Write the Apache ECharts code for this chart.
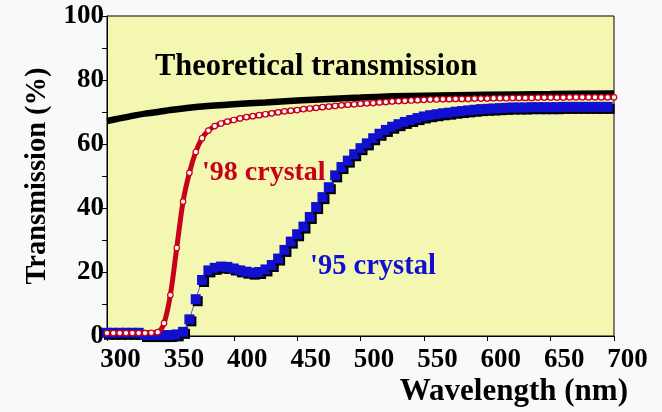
<!DOCTYPE html>
<html>
<head>
<meta charset="utf-8">
<script src="https://cdn.jsdelivr.net/npm/echarts@6/dist/echarts.min.js"></script>
<style>
  html, body { margin: 0; padding: 0; background: #f9f9fb; }
  #chart { width: 662px; height: 412px; }
</style>
</head>
<body>
<div id="chart"></div>
<script>
// Wavelength axis ticks (nm) and transmission axis (%)
var xTicks = [300, 350, 400, 450, 500, 550, 600, 650, 700];
var yTicks = [0, 20, 40, 60, 80, 100];

// Theoretical transmission curve
var theoryNm  = [300, 310, 320, 330, 340, 350, 360, 375, 400, 425, 450, 475, 500, 525, 550, 600, 650, 700];
var theoryPct = [67.2, 68.0, 68.8, 69.5, 70.0, 70.6, 71.1, 71.7, 72.4, 73.0, 73.6, 74.1, 74.5, 74.9, 75.1, 75.4, 75.6, 75.8];

// '98 crystal measurement
var crystal98Nm = [300, 305, 310, 315, 320, 325, 330, 335, 340, 345, 350, 355, 360, 365, 370, 375, 380, 385, 390, 395,
                   400, 405, 410, 415, 420, 425, 430, 435, 440, 445, 450, 455, 460, 465, 470, 475, 480, 485, 490, 495,
                   500, 505, 510, 515, 520, 525, 530, 535, 540, 545, 550, 555, 560, 565, 570, 575, 580, 585, 590, 595,
                   600, 605, 610, 615, 620, 625, 630, 635, 640, 645, 650, 655, 660, 665, 670, 675, 680, 685, 690, 695, 700];
var crystal98Pct = [0.9, 0.9, 0.9, 0.9, 0.9, 0.9, 0.9, 1.0, 1.2, 4.0, 12.8, 27.5, 42.0, 51.0, 57.5, 61.8, 64.2, 65.6, 66.4, 67.0,
                    67.5, 68.0, 68.4, 68.7, 69.0, 69.3, 69.6, 69.9, 70.2, 70.4, 70.6, 70.9, 71.1, 71.3, 71.5, 71.7, 71.9, 72.1, 72.3, 72.4,
                    72.6, 72.7, 72.8, 73.0, 73.1, 73.3, 73.4, 73.5, 73.6, 73.7, 73.8, 73.9, 73.9, 74.0, 74.0, 74.1, 74.1, 74.1, 74.2, 74.2,
                    74.2, 74.3, 74.3, 74.3, 74.4, 74.4, 74.4, 74.4, 74.5, 74.5, 74.5, 74.5, 74.5, 74.6, 74.6, 74.6, 74.6, 74.6, 74.6, 74.6, 74.6];

// '95 crystal measurement
var crystal95Nm = [300, 305, 310, 315, 320, 325, 330, 335, 340, 345, 350, 355, 360, 365, 370, 375, 380, 385, 390, 395,
                   400, 405, 410, 415, 420, 425, 430, 435, 440, 445, 450, 455, 460, 465, 470, 475, 480, 485, 490, 495,
                   500, 505, 510, 515, 520, 525, 530, 535, 540, 545, 550, 555, 560, 565, 570, 575, 580, 585, 590, 595,
                   600, 605, 610, 615, 620, 625, 630, 635, 640, 645, 650, 655, 660, 665, 670, 675, 680, 685, 690, 695, 700];
var crystal95Pct = [1.0, 1.0, 1.0, 1.0, 1.0, 1.0, 0.3, 0.3, 0.3, 0.3, 0.3, 0.5, 1.3, 5.2, 11.5, 17.5, 20.5, 21.3, 21.7, 21.6,
                    21.1, 20.5, 20.1, 19.8, 20.0, 20.8, 22.2, 24.2, 26.9, 29.5, 31.8, 34.2, 37.2, 40.3, 43.4, 46.5, 50.2, 52.8, 54.8, 56.8,
                    58.7, 60.2, 61.8, 63.2, 64.4, 65.4, 66.2, 66.9, 67.5, 68.1, 68.6, 69.0, 69.3, 69.6, 69.8, 70.1, 70.3, 70.5, 70.7, 70.9,
                    71.0, 71.1, 71.2, 71.3, 71.4, 71.4, 71.4, 71.5, 71.5, 71.5, 71.5, 71.5, 71.6, 71.6, 71.6, 71.6, 71.6, 71.6, 71.6, 71.6];

function zip(xs, ys) {
  return xs.map(function (x, i) { return [x, ys[i]]; });
}

var SERIF = '"Liberation Serif", "DejaVu Serif", serif';
var RED = '#c8001a';
var BLUE = '#1010d0';

var blueData = zip(crystal95Nm, crystal95Pct).map(function (p, i, arr) {
  // the final reading is drawn as an open square
  if (i === arr.length - 1) {
    return { value: p, itemStyle: { color: '#ffffff', borderColor: BLUE, borderWidth: 1.5, shadowColor: 'transparent' } };
  }
  return p;
});

var chart = echarts.init(document.getElementById('chart'), null, { renderer: 'canvas' });

chart.setOption({
  backgroundColor: '#f9f9fb',
  animation: false,
  grid: {
    left: 107, right: 48, top: 16, bottom: 76,
    show: true,
    backgroundColor: '#f3f7b2',
    borderColor: '#000',
    borderWidth: 1
  },
  xAxis: {
    type: 'value',
    min: xTicks[0],
    max: xTicks[xTicks.length - 1],
    interval: 50,
    name: 'Wavelength (nm)',
    nameLocation: 'end',
    nameGap: 14,
    nameTextStyle: {
      fontFamily: SERIF, fontWeight: 'bold', fontSize: 31, color: '#000',
      align: 'right', verticalAlign: 'top', padding: [40, 0, 0, 0]
    },
    axisLine: { show: true, onZero: false, lineStyle: { color: '#000', width: 1 } },
    axisTick: { show: true, inside: false, length: 5, lineStyle: { color: '#000' } },
    axisLabel: {
      fontFamily: SERIF, fontWeight: 'bold', fontSize: 27, color: '#000',
      margin: 11, padding: [0, 0, 0, 27],
      showMinLabel: true, showMaxLabel: true
    },
    splitLine: { show: false }
  },
  yAxis: {
    type: 'value',
    min: 0,
    max: 100,
    interval: 10,
    name: 'Transmission (%)',
    nameLocation: 'middle',
    nameGap: 52,
    nameTextStyle: { fontFamily: SERIF, fontWeight: 'bold', fontSize: 28.5, color: '#000' },
    axisLine: { show: true, lineStyle: { color: '#000', width: 1 } },
    axisTick: { show: true, inside: false, length: 5, lineStyle: { color: '#000' } },
    axisLabel: {
      fontFamily: SERIF, fontWeight: 'bold', fontSize: 27, color: '#000', margin: 3,
      formatter: function (v) { return yTicks.indexOf(v) >= 0 ? String(v) : ''; }
    },
    splitLine: { show: false }
  },
  series: [
    {
      name: 'Theoretical transmission',
      type: 'line',
      data: zip(theoryNm, theoryPct),
      smooth: 0.3,
      showSymbol: false,
      symbol: 'none',
      lineStyle: { color: '#000', width: 6.5 },
      z: 2
    },
    {
      name: "'95 crystal",
      type: 'line',
      data: blueData,
      symbol: 'rect',
      symbolSize: 10,
      showAllSymbol: true,
      clip: false,
      lineStyle: { color: '#5858d8', width: 1 },
      itemStyle: {
        color: BLUE, borderWidth: 0,
        shadowColor: '#000', shadowOffsetX: 2, shadowOffsetY: 2, shadowBlur: 0
      },
      z: 3
    },
    {
      name: "'98 crystal",
      type: 'line',
      data: zip(crystal98Nm, crystal98Pct),
      smooth: 0.3,
      symbol: 'circle',
      symbolSize: 5.5,
      showAllSymbol: true,
      clip: false,
      lineStyle: { color: RED, width: 5 },
      itemStyle: { color: '#ffffff', borderColor: RED, borderWidth: 1.2 },
      z: 4
    }
  ],
  graphic: [
    {
      type: 'text', x: 155, y: 67, z: 10,
      style: { text: 'Theoretical transmission', fill: '#000', font: 'bold 30.5px ' + SERIF, align: 'left', verticalAlign: 'middle' }
    },
    {
      type: 'text', x: 202, y: 173, z: 10,
      style: { text: "'98 crystal", fill: RED, font: 'bold 28px ' + SERIF, align: 'left', verticalAlign: 'middle' }
    },
    {
      type: 'text', x: 310, y: 267, z: 10,
      style: { text: "'95 crystal", fill: BLUE, font: 'bold 28.5px ' + SERIF, align: 'left', verticalAlign: 'middle' }
    }
  ]
});
</script>
</body>
</html>
